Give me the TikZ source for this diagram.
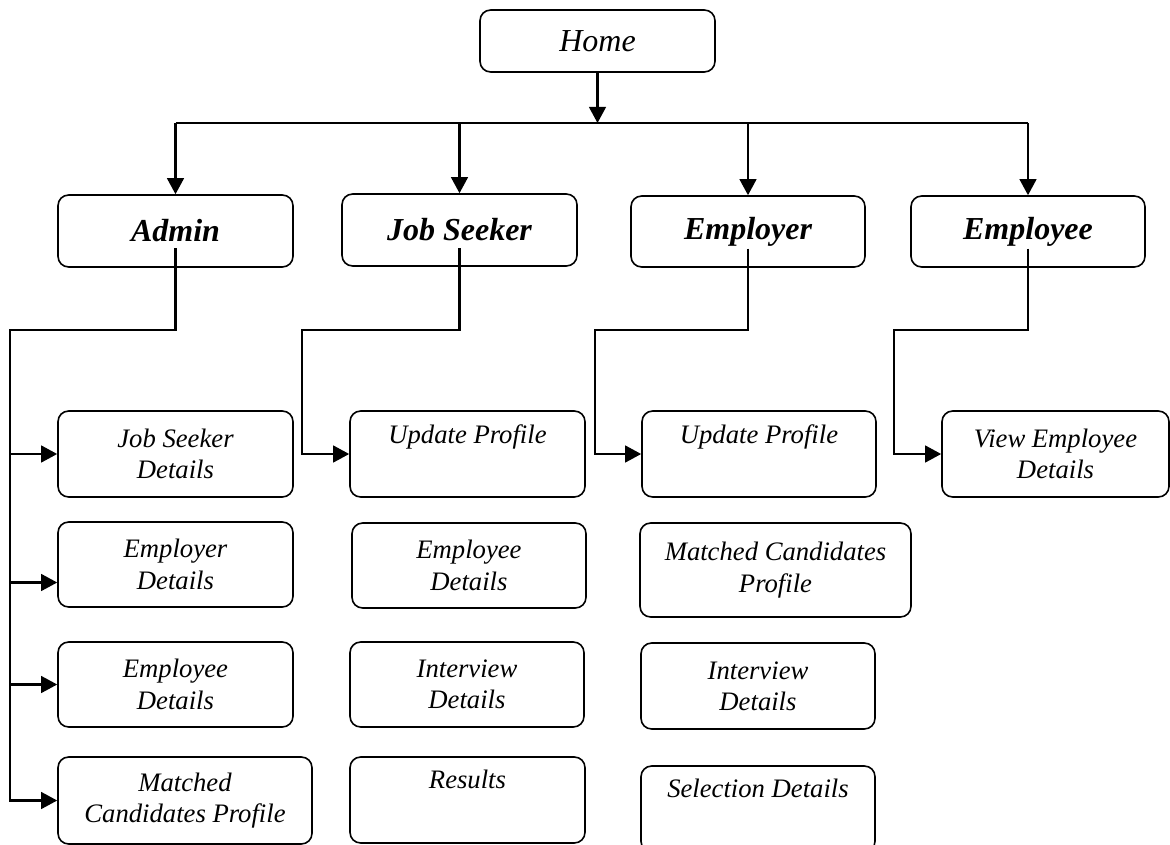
\documentclass[tikz,border=0pt]{standalone}
\usepackage{fontspec}
\setmainfont{Liberation Serif}
\usetikzlibrary{arrows.meta,calc}
\newcommand\placebox[6]{%
  \pgfmathsetmacro\bxcx{(#3+#5)/2}%
  \pgfmathsetmacro\bxcy{(#4+#6)/2}%
  \pgfmathsetmacro\bxw{(#5-#3)*0.75}%
  \pgfmathsetmacro\bxh{(#6-#4)*0.75}%
  \node[#1, minimum width=\bxw pt, minimum height=\bxh pt] (#2) at (\bxcx,\bxcy)}
\begin{document}
\begin{tikzpicture}[x=0.75pt,y=-0.75pt,
  box/.style={draw, line width=1.2pt, rounded corners=8pt, inner sep=0pt, align=center},
  mainbox/.style={box, font=\fontsize{24}{28}\selectfont\bfseries\itshape},
  homebox/.style={box, font=\fontsize{24}{28}\selectfont\itshape},
  subbox/.style={box, font=\fontsize{20}{23.5}\selectfont\itshape},
  conn/.style={line width=1.7pt},
  arr/.style={conn, -{Triangle[length=12pt,width=12.5pt]}}]
\useasboundingbox (0,0) rectangle (1170,845);

% top level
\placebox{homebox}{home}{480}{10}{715}{72} {Home};
\placebox{mainbox}{admin}{58}{195}{293}{267} {Admin};
\placebox{mainbox}{js}{342}{194}{577}{266} {Job Seeker};
\placebox{mainbox}{er}{631}{196}{865}{267} {Employer};
\placebox{mainbox}{ee}{911}{196}{1145}{267} {Employee};

% admin column
\placebox{subbox}{a1}{58}{411}{293}{497} {Job Seeker\\Details};
\placebox{subbox}{a2}{58}{522}{293}{607} {Employer\\Details};
\placebox{subbox}{a3}{58}{642}{293}{727} {Employee\\Details};
\placebox{subbox}{a4}{58}{757}{312}{844} {Matched\\Candidates Profile};

% job seeker column
\placebox{subbox}{b1}{350}{411}{585}{497} {Update Profile\\\strut};
\placebox{subbox}{b2}{352}{523}{586}{608} {Employee\\Details};
\placebox{subbox}{b3}{350}{642}{584}{727} {Interview\\Details};
\placebox{subbox}{b4}{350}{757}{585}{843} {Results\\\strut};

% employer column
\placebox{subbox}{c1}{642}{411}{876}{497} {Update Profile\\\strut};
\placebox{subbox}{c2}{640}{523}{911}{617} {Matched Candidates\\Profile};
\placebox{subbox}{c3}{641}{643}{875}{729} {Interview\\Details};
\placebox{subbox}{c4}{641}{766}{875}{852} {Selection Details\\\strut};

% employee column
\placebox{subbox}{d1}{942}{411}{1169}{497} {View Employee\\Details};

% home to roles
\coordinate (bus) at (0,123);
\draw[arr] (home.south) -- (home.south |- bus);
\draw[conn] (admin.north |- bus) -- (ee.north |- bus);
\foreach \n in {admin,js,er,ee} \draw[arr] (\n.north |- bus) -- (\n.north);

% branch turns
\coordinate (aturn) at (10,330);
\coordinate (bturn) at (302,330);
\coordinate (cturn) at (595,330);
\coordinate (dturn) at (894,330);

% admin branch
\draw[arr] ($(admin.center)+(0,17)$) |- (aturn) |- (a4.west);
\coordinate (a2in) at ($(a2.west)+(0,18)$);
\draw[arr] (aturn |- a1.west) -- (a1.west);
\draw[arr] (aturn |- a2in) -- (a2in);
\draw[arr] (aturn |- a3.west) -- (a3.west);

% other branches
\draw[arr] ($(js.center)+(0,18)$) |- (bturn) |- (b1.west);
\draw[arr] ($(er.center)+(0,17)$) |- (cturn) |- (c1.west);
\draw[arr] ($(ee.center)+(0,17)$) |- (dturn) |- (d1.west);
\end{tikzpicture}
\end{document}
